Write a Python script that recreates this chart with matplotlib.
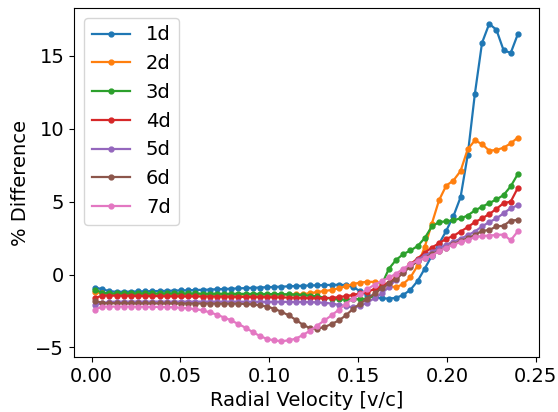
import numpy as np
import matplotlib
matplotlib.use("Agg")
import matplotlib.pyplot as plt

velocity = np.linspace(0.002, 0.24, 60)

d1 = [-0.9, -1.0, -1.15, -1.18, -1.18, -1.17, -1.16, -1.15, -1.14, -1.13,
      -1.12, -1.1, -1.09, -1.08, -1.06, -1.05, -1.03, -1.01, -0.99, -0.97,
      -0.95, -0.93, -0.91, -0.89, -0.87, -0.85, -0.83, -0.81, -0.79, -0.77,
      -0.75, -0.74, -0.72, -0.71, -0.7, -0.72, -0.85, -1.15, -1.4, -1.55,
      -1.63, -1.65, -1.6, -1.4, -1.05, -0.45, 0.4, 1.3, 2.1, 3.0,
      4.0, 5.3, 8.2, 12.4, 15.9, 17.2, 16.8, 15.4, 15.2, 16.5]
d2 = [-1.2, -1.3, -1.35, -1.35, -1.35, -1.35, -1.36, -1.36, -1.36, -1.36,
      -1.36, -1.37, -1.37, -1.37, -1.37, -1.37, -1.38, -1.38, -1.38, -1.38,
      -1.38, -1.38, -1.38, -1.38, -1.38, -1.38, -1.38, -1.37, -1.36, -1.35,
      -1.28, -1.2, -1.13, -1.06, -0.95, -0.8, -0.65, -0.55, -0.5, -0.5,
      -0.6, -0.78, -0.88, -0.65, -0.2, 0.6, 1.9, 3.5, 5.1, 6.1,
      6.45, 7.1, 8.6, 9.2, 8.95, 8.5, 8.55, 8.7, 9.0, 9.4]
d3 = [-1.05, -1.25, -1.3, -1.3, -1.3, -1.3, -1.3, -1.3, -1.3, -1.3,
      -1.3, -1.3, -1.3, -1.3, -1.3, -1.31, -1.31, -1.31, -1.32, -1.32,
      -1.32, -1.33, -1.33, -1.33, -1.34, -1.34, -1.35, -1.36, -1.38, -1.41,
      -1.45, -1.5, -1.58, -1.65, -1.7, -1.72, -1.7, -1.68, -1.65, -1.45,
      -0.7, 0.4, 1.0, 1.4, 1.65, 1.95, 2.5, 3.3, 3.6, 3.65,
      3.73, 3.85, 4.05, 4.4, 4.65, 4.9, 5.15, 5.45, 6.05, 6.9]
d4 = [-1.6, -1.45, -1.45, -1.45, -1.46, -1.46, -1.47, -1.47, -1.48, -1.48,
      -1.49, -1.49, -1.5, -1.5, -1.5, -1.51, -1.51, -1.52, -1.52, -1.53,
      -1.53, -1.54, -1.54, -1.55, -1.55, -1.56, -1.57, -1.58, -1.59, -1.6,
      -1.61, -1.62, -1.62, -1.6, -1.55, -1.48, -1.4, -1.3, -1.18, -1.0,
      -0.8, -0.55, -0.2, 0.25, 0.7, 1.1, 1.5, 1.85, 2.15, 2.45,
      2.65, 2.95, 3.25, 3.6, 3.85, 4.15, 4.5, 4.9, 5.0, 5.95]
d5 = [-2.1, -1.95, -1.88, -1.86, -1.86, -1.86, -1.86, -1.86, -1.86, -1.86,
      -1.86, -1.86, -1.86, -1.86, -1.86, -1.86, -1.86, -1.86, -1.86, -1.86,
      -1.86, -1.87, -1.87, -1.87, -1.87, -1.87, -1.87, -1.88, -1.88, -1.88,
      -1.89, -1.91, -1.94, -1.99, -2.08, -2.18, -2.25, -2.15, -1.92, -1.62,
      -1.3, -0.85, -0.35, 0.2, 0.6, 1.0, 1.3, 1.55, 1.8, 2.05,
      2.25, 2.45, 2.7, 2.95, 3.3, 3.6, 3.85, 4.2, 4.55, 4.75]
d6 = [-1.8, -1.95, -1.97, -1.97, -1.97, -1.98, -1.98, -1.98, -1.98, -1.98,
      -1.98, -1.98, -1.99, -1.99, -1.99, -1.99, -1.99, -2.0, -2.0, -2.0,
      -2.0, -2.02, -2.05, -2.12, -2.2, -2.35, -2.55, -2.8, -3.1, -3.45,
      -3.68, -3.72, -3.6, -3.4, -3.15, -2.8, -2.35, -2.0, -1.65, -1.3,
      -0.95, -0.6, -0.3, 0.12, 0.55, 0.9, 1.15, 1.4, 1.62, 1.85,
      2.1, 2.3, 2.5, 2.7, 3.0, 3.05, 3.3, 3.35, 3.7, 3.75]
d7 = [-2.4, -2.2, -2.2, -2.2, -2.2, -2.2, -2.21, -2.21, -2.22, -2.22,
      -2.23, -2.25, -2.28, -2.32, -2.38, -2.45, -2.6, -2.75, -2.95, -3.15,
      -3.4, -3.65, -3.95, -4.22, -4.42, -4.52, -4.57, -4.52, -4.4, -4.15,
      -3.85, -3.5, -3.15, -2.8, -2.42, -2.0, -1.65, -1.35, -1.0, -0.7,
      -0.45, -0.2, 0.05, 0.4, 0.7, 0.95, 1.12, 1.3, 1.6, 1.85,
      2.05, 2.22, 2.4, 2.55, 2.65, 2.67, 2.72, 2.74, 2.35, 2.97]

series = [d1, d2, d3, d4, d5, d6, d7]
labels = ["1d", "2d", "3d", "4d", "5d", "6d", "7d"]

fs = 14
fig = plt.figure(figsize=(5.58, 4.12), dpi=100)
ax = fig.add_axes([74 / 558, 55 / 412, 465 / 558, 349 / 412])
for ys, lab in zip(series, labels):
    ax.plot(velocity, ys, '.-', label=lab, linewidth=1.6, markersize=7)

ax.set_xlabel("Radial Velocity [v/c]", fontsize=fs)
ax.set_ylabel("% Difference", fontsize=fs)
ax.tick_params(labelsize=fs)
ax.set_xticks([0.0, 0.05, 0.10, 0.15, 0.20, 0.25])
ax.set_yticks([-5, 0, 5, 10, 15])
ax.legend(loc="upper left", fontsize=fs)
fig.savefig("out.png", dpi=100)
